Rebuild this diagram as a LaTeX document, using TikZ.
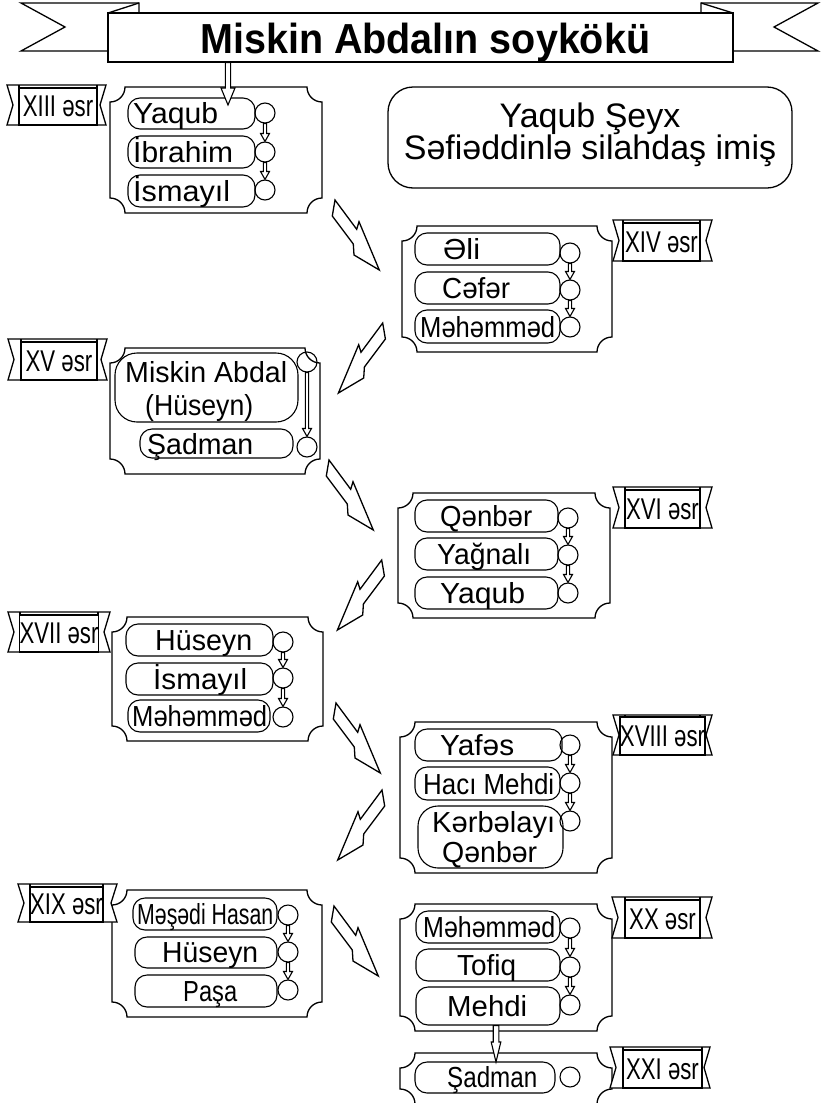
\documentclass[tikz,border=0pt]{standalone}
\usepackage{fontspec}
\setmainfont{Liberation Sans}
\usepackage{graphicx}
\usetikzlibrary{calc}

\tikzset{
 ln/.style={line width=1.3pt, line join=miter},
 pill/.style={draw, line width=1.1pt, rounded corners=12pt, inner sep=0pt},
 dot/.style={draw, circle, line width=1.1pt, minimum size=20pt, inner sep=0pt},
 nm/.style={font=\fontsize{29}{30}\selectfont, inner sep=0pt, anchor=base west},
 cbox/.style={draw, line width=1.3pt, fill=white, inner sep=0pt, font=\fontsize{30}{30}\selectfont},
 blk/.style={draw, fill=white, line width=1.1pt, line join=miter},
}

% concave-cornered frame: L T R B
\newcommand{\frm}[4]{%
\draw[ln] (#1,{#2+15}) .. controls ({#1+8.3},{#2+15}) and ({#1+15},{#2+8.3}) .. ({#1+15},#2) -- ({#3-15},#2) .. controls ({#3-15},{#2+8.3}) and ({#3-8.3},{#2+15}) .. (#3,{#2+15}) -- (#3,{#4-15}) .. controls ({#3-8.3},{#4-15}) and ({#3-15},{#4-8.3}) .. ({#3-15},#4) -- ({#1+15},#4) .. controls ({#1+15},{#4-8.3}) and ({#1+8.3},{#4-15}) .. (#1,{#4-15}) -- cycle;}

% century ribbon: name, ol, il, ir, or, bt, it, bb, text
\newcommand{\cent}[9]{%
\draw[ln, fill=white] (#2,#6) -- (#5,#6) -- ({#5-6},{(#6+#8)/2}) -- (#5,#8) -- (#2,#8) -- ({#2+6},{(#6+#8)/2}) -- cycle;
\node[cbox, minimum width={#4-#3}, minimum height={#8-#7}] (#1) at ({(#3+#4)/2},{(#7+#8)/2}) {\scalebox{0.74}[1]{#9}};
\draw[ln] (#3,#6) -- (#3,#7) (#4,#6) -- (#4,#7);}

% big zigzag arrow: x, y (tail top), direction (1 right, -1 left)
\newcommand{\barr}[3]{%
\draw[ln, fill=white] (#1,#2) -- ({#1+21.7*(#3)},{#2+29.3}) -- ({#1+24*(#3)},{#2+21.7}) -- ({#1+44.3*(#3)},{#2+70}) -- ({#1+19*(#3)},{#2+55}) -- ({#1+18.3*(#3)},{#2+44}) -- ({#1-2.7*(#3)},{#2+16}) -- cycle;}

% hollow down arrow between two named points: from, to, half shaft, half head, head length
\newcommand{\harrow}[5]{%
\draw[blk] let \p1=(#1), \p2=(#2) in (\x2-#3,\y1) -- (\x2-#3,\y2+#5) -- (\x2-#4,\y2+#5) -- (\x2,\y2) -- (\x2+#4,\y2+#5) -- (\x2+#3,\y2+#5) -- (\x2+#3,\y1) -- cycle;}

% pill: name, x1, y1, x2, y2
\newcommand{\pil}[5]{%
\node[pill, minimum width={#4-#2}, minimum height={#5-#3}] (#1) at ({(#2+#4)/2},{(#3+#5)/2}) {};}
% name text: name, x, baseline, width, text
\newcommand{\nmt}[5]{%
\node[nm] (#1) at (#2,#3) {\resizebox{#4pt}{\height}{#5}};}

\begin{document}
\begin{tikzpicture}[x=1pt,y=-1pt]
\useasboundingbox[fill=white] (0,0) rectangle (820,1103);

% ---- title banner ----
\draw[ln, fill=white] (21,3) -- (139,3) -- (139,51) -- (21,51) -- (65,27) -- cycle;
\draw[ln, fill=white] (701,3) -- (818,3) -- (774,27) -- (818,51) -- (701,51) -- cycle;
\node[draw, ln, fill=white, minimum width=625, minimum height=49, inner sep=0pt] (title) at (420.5,37.5) {};
\node[font=\fontsize{42}{42}\selectfont\bfseries, anchor=base west, inner sep=0pt] (titletext) at (200,53) {\resizebox{450pt}{\height}{Miskin Abdalın soykökü}};
\draw[ln] (108,13) -- (139,3) (733,13) -- (701,3);

% ---- note ----
\node[draw, ln, rounded corners=25pt, minimum width=404, minimum height=101] (note) at (590,137.5) {};
\node[font=\fontsize{34}{34}\selectfont, anchor=base, inner sep=0pt] (note1) at (590,127) {Yaqub Şeyx};
\node[font=\fontsize{34}{34}\selectfont, anchor=base, inner sep=0pt] (note2) at (590,159) {Səfiəddinlə silahdaş imiş};

% ---- frames ----
\frm{110}{87}{322}{213}
\frm{402}{226}{612}{352}
\frm{110}{348}{320}{474}
\frm{398}{493}{610}{618}
\frm{112}{617}{323}{741}
\frm{400}{722}{612}{873}
\frm{112}{890}{322}{1017}
\frm{400}{904}{612}{1031}
\frm{400}{1053}{612}{1104}

% ---- century labels ----
\cent{l13}{7}{19}{97}{106}{85}{88}{125}{XIII əsr}
\cent{l14}{613}{623}{700}{712}{220}{223}{261}{XIV əsr}
\cent{l15}{8}{21}{97}{107}{339}{342}{380}{XV əsr}
\cent{l16}{613}{625}{700}{712}{487}{490}{528}{XVI əsr}
\cent{l17}{8}{20}{98}{110}{612}{615}{652}{XVII əsr}
\cent{l18}{613}{625}{700}{712}{715}{717}{755}{XVIII əsr}
\cent{l19}{18}{30}{103}{117}{884}{887}{922}{XIX əsr}
\cent{l20}{612}{625}{700}{712}{897}{900}{938}{XX əsr}
\cent{l21}{610}{623}{702}{710}{1047}{1050}{1088}{XXI əsr}

% ---- frame XIII ----
\pil{p1a}{128}{98}{255}{129} \nmt{t1a}{133}{123}{85}{Yaqub}
\pil{p1b}{128}{136}{255}{168} \nmt{t1b}{133}{162}{100}{İbrahim}
\pil{p1c}{128}{175}{255}{207} \nmt{t1c}{133}{201}{97}{İsmayıl}
\node[dot] (c1a) at (265,113) {};
\node[dot] (c1b) at (265,152) {};
\node[dot] (c1c) at (265,190) {};
\harrow{c1a.south}{c1b.north}{1.6pt}{4.5pt}{8pt}
\harrow{c1b.south}{c1c.north}{1.6pt}{4.5pt}{8pt}
\coordinate (tt) at (228,105);
\harrow{title.south -| tt}{tt}{2.6pt}{7pt}{17pt}

% ---- frame XIV ----
\pil{p2a}{415}{233}{560}{265} \nmt{t2a}{443}{259}{37}{Əli}
\pil{p2b}{415}{272}{560}{304} \nmt{t2b}{442}{298}{68}{Cəfər}
\pil{p2c}{415}{310}{560}{343} \nmt{t2c}{420}{337}{135}{Məhəmməd}
\node[dot] (c2a) at (570,253) {};
\node[dot] (c2b) at (570,290) {};
\node[dot] (c2c) at (570,327) {};
\harrow{c2a.south}{c2b.north}{1.6pt}{4.5pt}{8pt}
\harrow{c2b.south}{c2c.north}{1.6pt}{4.5pt}{8pt}

% ---- frame XV ----
\node[pill, rounded corners=22pt, minimum width=183, minimum height=69] (p3a) at (206.5,387.5) {};
\nmt{t3a}{125}{382}{162}{Miskin Abdal}
\nmt{t3b}{145}{415}{108}{(Hüseyn)}
\pil{p3b}{140}{429}{293}{458} \nmt{t3c}{147}{454}{106}{Şadman}
\node[dot] (c3a) at (307,362) {};
\node[dot] (c3b) at (307,447) {};
\harrow{c3a.south}{c3b.north}{1.6pt}{4.5pt}{8pt}

% ---- frame XVI ----
\pil{p4a}{415}{500}{558}{532} \nmt{t4a}{440}{526}{92}{Qənbər}
\pil{p4b}{415}{538}{558}{570} \nmt{t4b}{437}{564}{94}{Yağnalı}
\pil{p4c}{415}{577}{558}{609} \nmt{t4c}{440}{603}{85}{Yaqub}
\node[dot] (c4a) at (568,518) {};
\node[dot] (c4b) at (568,555) {};
\node[dot] (c4c) at (568,593) {};
\harrow{c4a.south}{c4b.north}{1.6pt}{4.5pt}{8pt}
\harrow{c4b.south}{c4c.north}{1.6pt}{4.5pt}{8pt}

% ---- frame XVII ----
\pil{p5a}{126}{624}{273}{656} \nmt{t5a}{155}{650}{97}{Hüseyn}
\pil{p5b}{126}{663}{273}{695} \nmt{t5b}{153}{689}{94}{İsmayıl}
\pil{p5c}{128}{700}{270}{732} \nmt{t5c}{132}{726}{135}{Məhəmməd}
\node[dot] (c5a) at (283,642) {};
\node[dot] (c5b) at (283,678) {};
\node[dot] (c5c) at (283,717) {};
\harrow{c5a.south}{c5b.north}{1.6pt}{4.5pt}{8pt}
\harrow{c5b.south}{c5c.north}{1.6pt}{4.5pt}{8pt}

% ---- frame XVIII ----
\pil{p6a}{415}{729}{562}{761} \nmt{t6a}{440}{755}{74}{Yafəs}
\pil{p6b}{415}{767}{560}{800} \nmt{t6b}{423}{794}{131}{Hacı Mehdi}
\node[pill, rounded corners=20pt, minimum width=145, minimum height=62] (p6c) at (490.5,837) {};
\nmt{t6c}{432}{832}{123}{Kərbəlayı}
\nmt{t6d}{442}{862}{95}{Qənbər}
\node[dot] (c6a) at (570,745) {};
\node[dot] (c6b) at (570,783) {};
\node[dot] (c6c) at (570,821) {};
\harrow{c6a.south}{c6b.north}{1.6pt}{4.5pt}{8pt}
\harrow{c6b.south}{c6c.north}{1.6pt}{4.5pt}{8pt}

% ---- frame XIX ----
\pil{p7a}{133}{898}{277}{930} \nmt{t7a}{137}{924}{136}{Məşədi Hasan}
\pil{p7b}{135}{937}{277}{968} \nmt{t7b}{162}{962}{96}{Hüseyn}
\pil{p7c}{135}{975}{277}{1007} \nmt{t7c}{183}{1001}{54}{Paşa}
\node[dot] (c7a) at (288,915) {};
\node[dot] (c7b) at (288,952) {};
\node[dot] (c7c) at (288,990) {};
\harrow{c7a.south}{c7b.north}{1.6pt}{4.5pt}{8pt}
\harrow{c7b.south}{c7c.north}{1.6pt}{4.5pt}{8pt}

% ---- frame XX ----
\pil{p8a}{416}{911}{560}{943} \nmt{t8a}{423}{937}{132}{Məhəmməd}
\pil{p8b}{416}{949}{560}{981} \nmt{t8b}{457}{975}{59}{Tofiq}
\pil{p8c}{416}{987}{560}{1025} \nmt{t8c}{447}{1016}{80}{Mehdi}
\node[dot] (c8a) at (570,928) {};
\node[dot] (c8b) at (570,967) {};
\node[dot] (c8c) at (570,1005) {};
\harrow{c8a.south}{c8b.north}{1.6pt}{4.5pt}{8pt}
\harrow{c8b.south}{c8c.north}{1.6pt}{4.5pt}{8pt}

% ---- frame XXI ----
\pil{p9}{415}{1062}{555}{1093} \nmt{t9}{447}{1087}{90}{Şadman}
\node[dot] (c9) at (570,1077) {};
\coordinate (mt) at (496,1062);
\harrow{p8c.south -| mt}{mt}{2.8pt}{4.8pt}{20pt}

% ---- big arrows ----
\barr{335}{200}{1}
\barr{382.7}{323}{-1}
\barr{329}{460}{1}
\barr{381.7}{560}{-1}
\barr{336}{703}{1}
\barr{382}{790}{-1}
\barr{334}{906}{1}
\end{tikzpicture}
\end{document}
